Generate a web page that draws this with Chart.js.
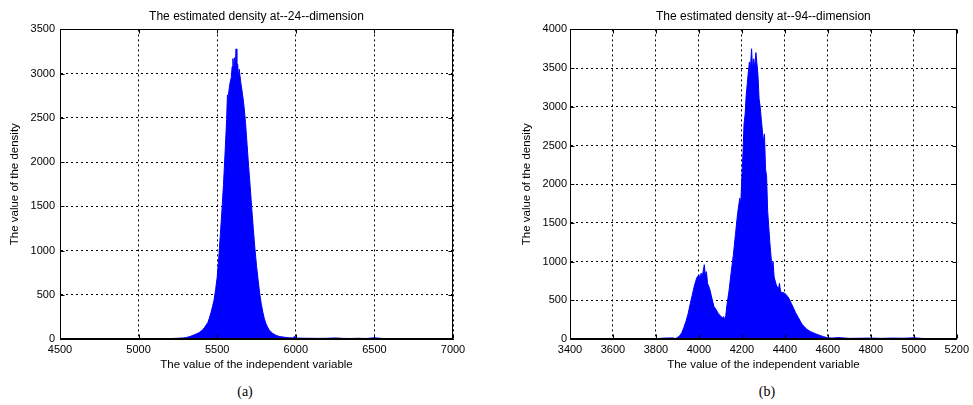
<!DOCTYPE html>
<html>
<head>
<meta charset="utf-8">
<script src="https://cdn.jsdelivr.net/npm/chart.js@4/dist/chart.umd.min.js"></script>
<style>
  html, body { margin: 0; padding: 0; background: #fff; }
  #wrap { position: relative; width: 973px; height: 405px; overflow: hidden; }
  canvas { position: absolute; top: 0; }
  .cap { position: absolute; top: 384px; font: 14px "Liberation Serif", serif; color: #000; transform: translateX(-50%); }
</style>
</head>
<body>
<div id="wrap">
  <canvas id="chartA" width="512" height="374" style="left:0"></canvas>
  <canvas id="chartB" width="473" height="374" style="left:500px"></canvas>
  <div class="cap" style="left:245px">(a)</div>
  <div class="cap" style="left:767px">(b)</div>
</div>
<script>
// Panel (a): estimated density at 24th dimension
const aX = [4720, 4730, 4800, 4900, 5000, 5100, 5200, 5250, 5280, 5300, 5310, 5320, 5330, 5340, 5350,
  5360, 5370, 5380, 5390, 5400, 5410, 5420, 5430, 5440, 5450, 5460, 5470, 5480, 5490, 5500,
  5510, 5520, 5530, 5540, 5550, 5560, 5565, 5570, 5580, 5590, 5595, 5600, 5605, 5610, 5615,
  5620, 5625, 5630, 5635, 5640, 5650, 5660, 5670, 5680, 5690, 5700, 5710, 5720, 5730, 5740,
  5750, 5760, 5770, 5780, 5790, 5800, 5810, 5820, 5830, 5840, 5850, 5860, 5870, 5880, 5890,
  5900, 5920, 5940, 5960, 5980, 5995, 6005, 6050, 6100, 6150, 6200, 6250, 6300, 6350, 6400,
  6450, 6500, 6550, 6600, 6610];
const aY = [0, 3, 3, 4, 3, 4, 5, 8, 12, 15, 20, 25, 30, 38, 45,
  52, 60, 68, 78, 92, 110, 132, 158, 185, 235, 295, 365, 440, 560, 700,
  920, 1180, 1450, 1750, 2100, 2480, 2760, 2740, 2880, 2960, 3080, 3170, 3020, 3180, 3060,
  3280, 2980, 3110, 2960, 3050, 2900, 2780, 2640, 2450, 2200, 1950, 1720, 1470, 1240, 1020,
  830, 670, 520, 400, 305, 230, 175, 135, 105, 85, 68, 56, 46, 38, 32,
  27, 22, 18, 14, 12, 30, 10, 9, 8, 7, 8, 12, 7, 6, 8,
  6, 14, 6, 5, 0];

// Panel (b): estimated density at 94th dimension
const bX = [3400, 3500, 3600, 3700, 3800, 3840, 3880, 3890, 3900, 3910, 3920, 3930, 3940, 3950, 3960,
  3970, 3980, 3990, 4000, 4005, 4010, 4015, 4020, 4025, 4030, 4035, 4040, 4050, 4060, 4070,
  4080, 4090, 4100, 4110, 4115, 4120, 4125, 4130, 4140, 4150, 4160, 4170, 4180, 4190, 4195,
  4200, 4205, 4210, 4215, 4220, 4225, 4230, 4235, 4240, 4245, 4250, 4255, 4260, 4265, 4270,
  4275, 4280, 4285, 4290, 4295, 4300, 4305, 4310, 4315, 4320, 4330, 4340, 4345, 4350, 4360,
  4370, 4375, 4380, 4390, 4400, 4410, 4420, 4430, 4440, 4450, 4460, 4470, 4480, 4490, 4500,
  4520, 4540, 4560, 4580, 4600, 4620, 4650, 4700, 4750, 4800, 4850, 4900, 4950, 5000, 5050, 5060];
const bY = [3, 3, 3, 3, 4, 12, 14, 5, 20, 40, 80, 150, 230, 330, 460,
  580, 700, 790, 830, 780, 850, 800, 880, 960, 820, 870, 720, 650, 530, 420,
  380, 330, 300, 270, 290, 250, 300, 430, 620, 860, 1080, 1350, 1620, 1820, 1760,
  2100, 2400, 2780, 2900, 3150, 3300, 3450, 3580, 3500, 3750, 3480, 3620, 3500, 3700, 3560,
  3400, 3100, 3000, 2850, 2700, 2550, 2650, 2200, 2100, 1650, 1250, 920, 1000, 800, 700,
  640, 720, 610, 600, 590, 560, 520, 460, 400, 340, 290, 240, 190, 160, 130,
  95, 70, 50, 30, 15, 12, 18, 8, 10, 12, 8, 12, 10, 15, 5, 0];

const aTitle = "The estimated density at--24--dimension";
const bTitle = "The estimated density at--94--dimension";
const xLabel = "The value of the independent variable";
const yLabel = "The value of the density";

const FONT = "'Liberation Sans', Arial, sans-serif";

// solid box around the plot plus small inward ticks, Matlab style
const framePlugin = {
  id: "frame",
  afterDatasetsDraw(chart) {
    const { ctx, chartArea: a, scales } = chart;
    const L = Math.round(a.left) + 0.5, R = Math.round(a.right) - 0.5;
    const T = Math.round(a.top) + 0.5, B = Math.round(a.bottom) - 0.5;
    ctx.save();
    ctx.strokeStyle = "#000";
    ctx.lineWidth = 1;
    ctx.setLineDash([]);
    ctx.strokeRect(L, T, R - L, B - T);
    ctx.beginPath();
    scales.x.ticks.forEach(t => {
      const p = Math.round(scales.x.getPixelForValue(t.value)) + 0.5;
      ctx.moveTo(p, B); ctx.lineTo(p, B - 4);
      ctx.moveTo(p, T); ctx.lineTo(p, T + 4);
    });
    scales.y.ticks.forEach(t => {
      const p = Math.round(scales.y.getPixelForValue(t.value)) + 0.5;
      ctx.moveTo(L, p); ctx.lineTo(L + 4, p);
      ctx.moveTo(R, p); ctx.lineTo(R - 4, p);
    });
    ctx.stroke();
    ctx.restore();
  }
};

function makeChart(id, xs, ys, cfg) {
  const ctx = document.getElementById(id).getContext("2d");
  return new Chart(ctx, {
    type: "line",
    data: {
      datasets: [{
        data: xs.map((x, i) => ({ x: x, y: ys[i] })),
        fill: "origin",
        backgroundColor: "#0000ff",
        borderColor: "#0000ff",
        borderWidth: 1,
        pointRadius: 0,
        tension: 0
      }]
    },
    options: {
      responsive: false,
      animation: false,
      events: [],
      layout: { padding: { left: 0, right: cfg.padRight, top: 0, bottom: 0 } },
      plugins: {
        legend: { display: false },
        tooltip: { enabled: false },
        title: {
          display: true,
          text: cfg.title,
          fullSize: false,
          color: "#000",
          font: { family: FONT, size: 12, weight: "normal" },
          padding: { top: 9, bottom: 6 }
        }
      },
      scales: {
        x: {
          type: "linear",
          min: cfg.xMin,
          max: cfg.xMax,
          afterFit: s => { s.height = 35; },
          ticks: {
            stepSize: cfg.xStep,
            autoSkip: false,
            maxRotation: 0,
            padding: 4,
            color: "#000",
            font: { family: FONT, size: 11 },
            callback: v => String(v)
          },
          grid: { color: "#000", lineWidth: 1, drawTicks: false },
          border: { display: true, color: "#000", width: 1, dash: [2, 3] },
          title: {
            display: true,
            text: xLabel,
            color: "#000",
            font: { family: FONT, size: 11.5 },
            padding: { top: 0, bottom: 2 }
          }
        },
        y: {
          type: "linear",
          min: 0,
          max: cfg.yMax,
          afterFit: s => { s.width = cfg.yWidth; },
          ticks: {
            stepSize: 500,
            padding: cfg.yPad,
            color: "#000",
            font: { family: FONT, size: 11 },
            callback: v => String(v)
          },
          grid: { color: "#000", lineWidth: 1, drawTicks: false },
          border: { display: true, color: "#000", width: 1, dash: [2, 3] },
          title: {
            display: true,
            text: yLabel,
            color: "#000",
            font: { family: FONT, size: 11.5 },
            padding: { top: cfg.yTitlePad, bottom: 0 }
          }
        }
      }
    },
    plugins: [framePlugin]
  });
}

makeChart("chartA", aX, aY, {
  title: aTitle, xMin: 4500, xMax: 7000, xStep: 500, yMax: 3500,
  padRight: 59, yWidth: 60, yPad: 5, yTitlePad: 8
});
makeChart("chartB", bX, bY, {
  title: bTitle, xMin: 3400, xMax: 5200, xStep: 200, yMax: 4000,
  padRight: 12, yWidth: 70, yPad: 3, yTitlePad: 20
});
</script>
</body>
</html>
